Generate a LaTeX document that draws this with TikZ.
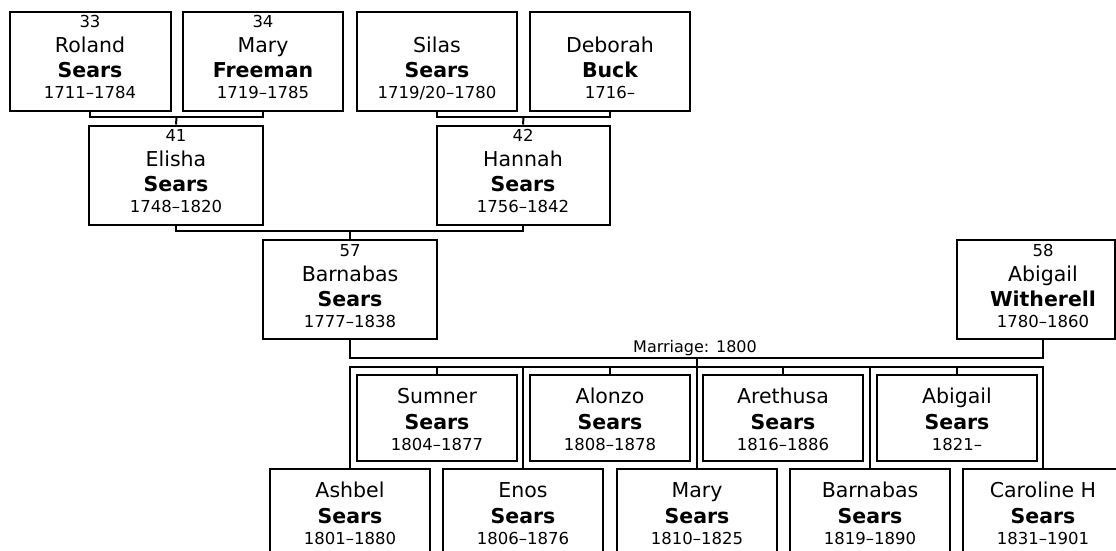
\documentclass[tikz,border=0pt]{standalone}
\usepackage{fontspec}
\setmainfont{DejaVu Sans}
\tikzset{
  x=1pt, y=-1pt,
  pbox/.style={draw=black, line width=2pt, fill=white, inner sep=0pt},
  numtxt/.style={inner sep=0pt, anchor=base, font=\fontsize{16.5}{19}\selectfont},
  nametxt/.style={inner sep=0pt, anchor=base, font=\fontsize{20.5}{24}\selectfont},
  surtxt/.style={inner sep=0pt, anchor=base, font=\fontsize{20.5}{24}\selectfont\bfseries},
  datetxt/.style={inner sep=0pt, anchor=base, font=\fontsize{16.5}{19}\selectfont},
  conn/.style={draw=black, line width=2pt},
  lbltxt/.style={inner sep=0pt, anchor=base, font=\fontsize{16}{19}\selectfont}
}
% id, cx, top, width, height, first, last, dates
\newcommand\kidbox[8]{%
  \node[pbox, minimum width=#4pt, minimum height=#5pt, anchor=north] (#1) at (#2,#3) {};
  \node[nametxt] (#1-f) at (#2,#3+29) {#6};
  \node[surtxt] (#1-l) at (#2,#3+55) {#7};
  \node[datetxt] (#1-d) at (#2,#3+76) {#8};
}
% id, cx, top, width, number, first, last, dates
\newcommand\anbox[8]{%
  \node[pbox, minimum width=#4pt, minimum height=99pt, anchor=north] (#1) at (#2,#3) {};
  \node[numtxt] (#1-n) at (#2,#3+17) {#5};
  \node[nametxt] (#1-f) at (#2,#3+42) {#6};
  \node[surtxt] (#1-l) at (#2,#3+67) {#7};
  \node[datetxt] (#1-d) at (#2,#3+88) {#8};
}
\newcommand\annbox[7]{%
  \node[pbox, minimum width=#4pt, minimum height=99pt, anchor=north] (#1) at (#2,#3) {};
  \node[nametxt] (#1-f) at (#2,#3+42) {#5};
  \node[surtxt] (#1-l) at (#2,#3+67) {#6};
  \node[datetxt] (#1-d) at (#2,#3+88) {#7};
}
\begin{document}
\begin{tikzpicture}
\useasboundingbox (0,0) rectangle (1116,550);
\clip (0,0) rectangle (1116,550);
% generation 1
\anbox{roland}{90}{10.5}{161}{33}{Roland}{Sears}{1711–1784}
\anbox{maryf}{263}{10.5}{160}{34}{Mary}{Freeman}{1719–1785}
\annbox{silas}{437}{10.5}{160}{Silas}{Sears}{1719/20–1780}
\annbox{deborah}{610}{10.5}{160}{Deborah}{Buck}{1716–}
% generation 2
\anbox{elisha}{176}{124.5}{174}{41}{Elisha}{Sears}{1748–1820}
\anbox{hannah}{523}{124.5}{173}{42}{Hannah}{Sears}{1756–1842}
% generation 3
\anbox{barnabas}{350}{239}{174}{57}{Barnabas}{Sears}{1777–1838}
\node[pbox, minimum width=158pt, minimum height=99pt, anchor=north] (witherell) at (1036,239) {};
\node[numtxt] (witherell-n) at (1043,256) {58};
\node[nametxt] (witherell-f) at (1043,281) {Abigail};
\node[surtxt] (witherell-l) at (1043,306) {Witherell};
\node[datetxt] (witherell-d) at (1043,327) {1780–1860};
% children, upper row
\kidbox{sumner}{437}{374}{160}{86}{Sumner}{Sears}{1804–1877}
\kidbox{alonzo}{610}{374}{160}{86}{Alonzo}{Sears}{1808–1878}
\kidbox{arethusa}{783}{374}{160}{86}{Arethusa}{Sears}{1816–1886}
\kidbox{abigails}{957}{374}{160}{86}{Abigail}{Sears}{1821–}
% children, lower row
\kidbox{ashbel}{350}{468}{160}{98}{Ashbel}{Sears}{1801–1880}
\kidbox{enos}{523}{468}{160}{98}{Enos}{Sears}{1806–1876}
\kidbox{marys}{697}{468}{160}{98}{Mary}{Sears}{1810–1825}
\kidbox{barnabasj}{870}{468}{160}{98}{Barnabas}{Sears}{1819–1890}
\kidbox{caroline}{1043}{468}{160}{98}{Caroline H}{Sears}{1831–1901}
% connectors
\coordinate (j1) at (176.5,117);
\draw[conn] (roland.south) |- (j1) -| (maryf.south);
\draw[conn] (j1) -- (elisha.north);
\coordinate (j2) at (523.5,117);
\draw[conn] (silas.south) |- (j2) -| (deborah.south);
\draw[conn] (j2) -- (hannah.north);
\coordinate (j3) at (350,231);
\draw[conn] (elisha.south) |- (j3) -| (hannah.south);
\draw[conn] (j3) -- (barnabas.north);
\coordinate (wd) at (1043,338.5);
\coordinate (mj) at (697,358);
\draw[conn] (barnabas.south) |- (mj) -| (wd);
\node[lbltxt] (mlabel) at (695,352) {Marriage: 1800};
\coordinate (sb) at (697,367);
\draw[conn] (mj) -- (sb);
\draw[conn] (ashbel.north) |- (sb) -| (caroline.north);
\foreach \n in {sumner,alonzo,arethusa,abigails,enos,marys,barnabasj}
  \draw[conn] (\n.north) -- (\n.north |- sb);
\end{tikzpicture}
\end{document}
